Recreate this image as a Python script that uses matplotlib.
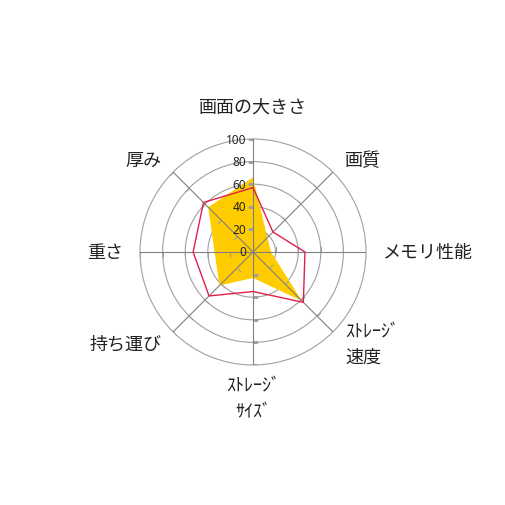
import numpy as np
import matplotlib
matplotlib.use("Agg")
import matplotlib.pyplot as plt

plt.rcParams['font.family'] = ['Noto Sans CJK JP', 'DejaVu Sans']

categories = ['画面の大きさ', '画質', 'メモリ性能', 'ｽﾄﾚｰｼﾞ\n速度', 'ｽﾄﾚｰｼﾞ\nｻｲｽﾞ',
              '持ち運び', '重さ', '厚み']
series_fill = [66, 18, 16, 61, 23, 42, 34, 56]
series_line = [57, 25, 46, 63, 35, 55, 53, 62]
rticks = [0, 20, 40, 60, 80, 100]

n = len(categories)
theta = np.arange(n) * 2 * np.pi / n
theta_c = np.append(theta, theta[0])

fig = plt.figure(figsize=(5.06, 5.06), dpi=100)
w = 0.4466
ax = fig.add_axes([0.5 - w / 2, 0.5 - w / 2, w, w], projection='polar')
ax.set_theta_zero_location('N')
ax.set_theta_direction(-1)
ax.set_ylim(0, 100)
ax.set_axisbelow(True)

ax.set_xticks([])
ax.set_yticks(rticks[1:-1])
ax.set_yticklabels([])
ax.yaxis.grid(True, color='#a0a0a0', lw=0.8)
ax.spines['polar'].set_color('#a0a0a0')
ax.spines['polar'].set_linewidth(0.8)

# yellow area
ax.fill(theta_c, np.append(series_fill, series_fill[0]), color='#FFCC00', lw=0, zorder=2)

# spokes with one-sided tick marks, drawn above the fill
for t in theta:
    ax.plot([t, t], [0, 100], color='#808080', lw=0.8, zorder=3)
    a = np.radians(180 - np.degrees(t))
    c, s = np.cos(a), np.sin(a)
    ms = 7.2 * max(abs(c), abs(s))
    ax.plot([t] * len(rticks[1:]), rticks[1:], ls='none', marker=[(0, 0), (c, s)],
            ms=ms, mew=0.8, mec='#a0a0a0', mfc='none', zorder=2.5)

# red line
ax.plot(theta_c, np.append(series_line, series_line[0]), color='#E0204A', lw=1.0, zorder=4)

# radial labels on the top spoke
for v in rticks:
    ax.annotate(str(v), xy=(0, v), xytext=(-5, 0), textcoords='offset points',
                ha='right', va='center', fontsize=8.5, family=['Noto Sans', 'DejaVu Sans'],
                color='#222222', zorder=5)

# category labels
for t, lab in zip(theta, categories):
    deg = np.degrees(t) % 360
    if deg == 0 or deg == 180:
        ha = 'center'
        r = 129
    elif deg < 180:
        ha = 'left'
        r = 115
    else:
        ha = 'right'
        r = 115
    ax.text(t, r, lab, ha=ha, va='center', multialignment=ha,
            fontsize=13, linespacing=1.6, color='#222222')

fig.savefig('out.png', dpi=100)
